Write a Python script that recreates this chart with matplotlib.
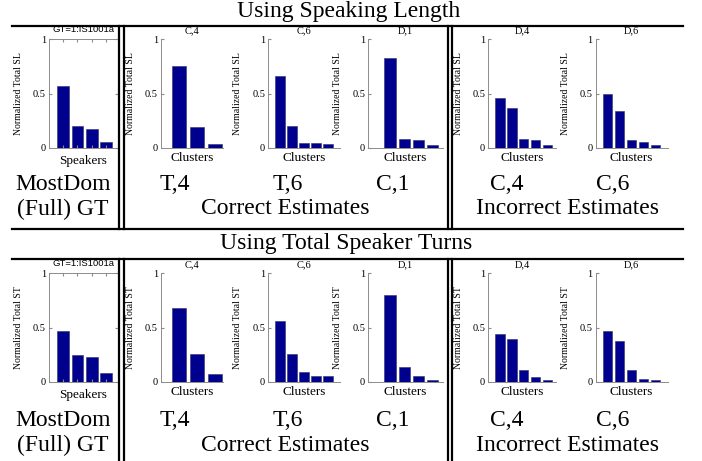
import matplotlib
matplotlib.use('Agg')
import matplotlib.pyplot as plt
from matplotlib.lines import Line2D

# figure size in pixels (dpi 100)
W, H = 702, 461

row_titles = ['Using Speaking Length', 'Using Total Speaker Turns']
ylabels = ['Normalized Total SL', 'Normalized Total ST']
panel_titles = ['GT=1:IS1001a', 'C,4', 'C,6', 'D,1', 'D,4', 'D,6']
xlabels = ['Speakers', 'Clusters', 'Clusters', 'Clusters', 'Clusters', 'Clusters']
case_labels = ['MostDom', 'T,4', 'T,6', 'C,1', 'C,4', 'C,6']
group_labels = ['(Full) GT', 'Correct Estimates', 'Incorrect Estimates']

# normalized speaking length per speaker / cluster
sl_values = [
    [0.57, 0.20, 0.17, 0.055],
    [0.75, 0.19, 0.035],
    [0.66, 0.20, 0.046, 0.04, 0.031],
    [0.83, 0.08, 0.071, 0.028],
    [0.46, 0.37, 0.077, 0.068, 0.025],
    [0.50, 0.34, 0.074, 0.053, 0.022],
]
# normalized total speaker turns per speaker / cluster
st_values = [
    [0.47, 0.246, 0.23, 0.077],
    [0.68, 0.258, 0.075],
    [0.563, 0.255, 0.089, 0.052, 0.052],
    [0.803, 0.135, 0.052, 0.018],
    [0.443, 0.39, 0.108, 0.04, 0.012],
    [0.465, 0.378, 0.11, 0.028, 0.012],
]

# layout (pixels)
panel_x0 = [48.6, 160.7, 268, 368, 488, 595.5]
panel_xlim = [(0, 4.85), (0, 3.45), (0, 6), (-0.55, 4.75), (0, 5.7), (0, 6)]
panel_step = [14.4, 18, 12, 14.2, 11.9, 12]
row_axtop = [39.3, 273.3]
ax_h = 108.4
row_box = [(26, 229), (259, 461)]
row_title_x = [349, 346]
row_title_y = [12, 243]
case_y = [184, 420]
group_y = [209, 445]
case_x = [63, 175, 288, 393, 507, 613]
group_x = [63, 285, 568]
vlines_x = [119.5, 124, 448, 452]

serif = 'Liberation Serif'
bar_color = '#00008f'
axis_gray = '#8c8c8c'
big = 17

fig = plt.figure(figsize=(W / 100, H / 100), dpi=100)


def fx(x):
    return x / W


def fy(y):
    return 1 - y / H


for r, values in enumerate([sl_values, st_values]):
    for i, vals in enumerate(values):
        lo, hi = panel_xlim[i]
        w = (hi - lo) * panel_step[i]
        ax = fig.add_axes([fx(panel_x0[i]), fy(row_axtop[r] + ax_h), w / W, ax_h / H])
        pos = list(range(1, len(vals) + 1))
        ax.bar(pos, vals, width=0.8, color=bar_color, edgecolor='#30306a', linewidth=0.4)
        ax.set_xlim(lo, hi)
        ax.set_ylim(0, 1)
        ax.set_yticks([0, 0.5, 1])
        ax.set_yticklabels(['0', '0.5', '1'], fontfamily=serif, fontsize=7.5)
        for s in ax.spines.values():
            s.set_color(axis_gray)
            s.set_linewidth(0.7)
        if i == 0:
            ax.set_xticks(pos)
            ax.set_xticklabels([])
            ax.tick_params(axis='both', direction='in', length=2, color=axis_gray,
                           top=True, right=True, pad=2)
            ax.set_title(panel_titles[i], fontfamily='Liberation Sans', fontsize=6.8, pad=5)
        else:
            ax.spines['top'].set_visible(False)
            ax.spines['right'].set_visible(False)
            ax.set_xticks([])
            ax.tick_params(axis='y', direction='in', length=2, color=axis_gray, pad=2)
            ax.set_title(panel_titles[i], fontfamily=serif, fontsize=7.5, pad=4.5)
        ax.set_xlabel(xlabels[i], fontfamily=serif, fontsize=9.5, labelpad=3)
        ax.set_ylabel(ylabels[r], fontfamily=serif, fontsize=7)
        ax.yaxis.set_label_coords(-25.5 / w, 0.5)

    fig.text(fx(row_title_x[r]), fy(row_title_y[r]), row_titles[r], ha='center', va='center',
             fontfamily=serif, fontsize=big)
    for i, lab in enumerate(case_labels):
        fig.text(fx(case_x[i]), fy(case_y[r]), lab, ha='center', va='center',
                 fontfamily=serif, fontsize=big)
    for i, lab in enumerate(group_labels):
        fig.text(fx(group_x[i]), fy(group_y[r]), lab, ha='center', va='center',
                 fontfamily=serif, fontsize=big)

    # frame lines around the groups
    top, bottom = row_box[r]
    fig.add_artist(Line2D([fx(12), fx(683)], [fy(top), fy(top)], color='k', lw=1.6))
    if bottom < H:
        fig.add_artist(Line2D([fx(12), fx(683)], [fy(bottom), fy(bottom)], color='k', lw=1.6))
    for x in vlines_x:
        fig.add_artist(Line2D([fx(x), fx(x)], [fy(top), fy(bottom)], color='k', lw=1.6))

fig.savefig('out.png', dpi=100)
